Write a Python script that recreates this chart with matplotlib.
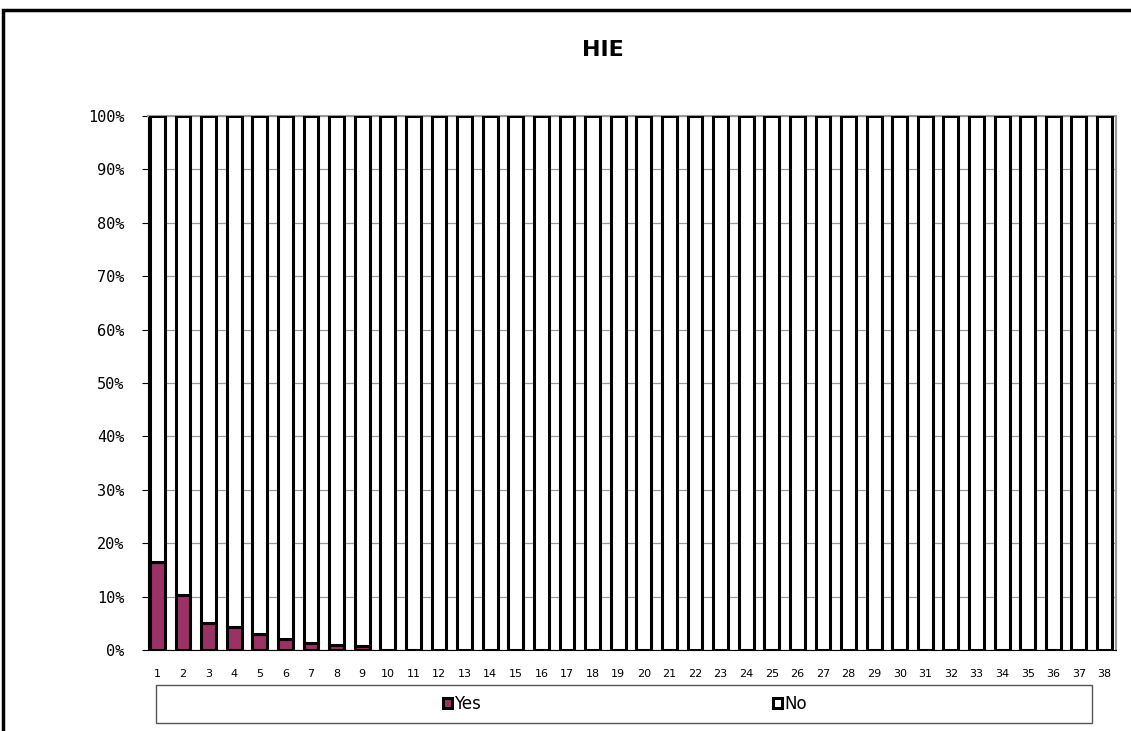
import matplotlib.pyplot as plt
from matplotlib.patches import Rectangle
import numpy as np

# Data
categories = [str(i) for i in range(1, 39)]
yes_pct = [16.5, 10.3, 5.1, 4.3, 3.0, 2.1, 1.3, 0.9, 0.8] + [0.0] * 29
no_pct = [100 - v for v in yes_pct]
y_ticks = list(range(0, 101, 10))
y_tick_labels = [f'{v}%' for v in y_ticks]

W, H = 1131, 731
fig = plt.figure(figsize=(W / 100, H / 100), dpi=100)

# Outer chart border (right and bottom edges fall outside the image)
fig.patches.append(Rectangle((3 / W, -0.2), 1.2, 1.2 - 10 / H, transform=fig.transFigure,
                             fill=False, edgecolor='black', linewidth=2.5))

ax = fig.add_axes([148 / W, 1 - 650 / H, (1116 - 148) / W, (650 - 116) / H])

x = np.arange(1, len(categories) + 1)
ax.bar(x, yes_pct, width=0.58, color='#993366', edgecolor='black', linewidth=2.2,
       label='Yes', zorder=3)
ax.bar(x, no_pct, width=0.58, bottom=yes_pct, color='white', edgecolor='black',
       linewidth=2.2, label='No', zorder=3)

ax.set_xlim(0.63, 38.45)
ax.set_ylim(0, 100)
ax.set_yticks(y_ticks)
ax.set_yticklabels(y_tick_labels, fontsize=11, family='DejaVu Sans Mono')
ax.set_xticks(x)
ax.set_xticklabels(categories, fontsize=8)
ax.tick_params(axis='x', length=3, pad=14, direction='in')
ax.tick_params(axis='y', length=4, pad=13, direction='out')
ax.grid(True, axis='y', color='#999999', linewidth=0.9, zorder=0)

for side in ['top', 'right']:
    ax.spines[side].set_color('#999999')
    ax.spines[side].set_linewidth(1.5)
ax.spines['left'].set_color('black')
ax.spines['bottom'].set_color('black')

fig.text(603 / W, 1 - 50 / H, 'HIE', ha='center', va='center', fontsize=16,
         fontweight='bold')

# Legend box
fig.patches.append(Rectangle((156 / W, 1 - 723 / H), (1092 - 156) / W, 38 / H,
                             transform=fig.transFigure, fill=False,
                             edgecolor='#555555', linewidth=1))
handles, labels = ax.get_legend_handles_labels()
for h, lab, xpos in zip(handles, labels, [462, 790]):
    fig.legend([h], [lab], loc='center', bbox_to_anchor=(xpos / W, 1 - 704 / H),
               frameon=False, fontsize=12, handlelength=0.55, handleheight=0.55,
               handletextpad=0.15, borderpad=0)

plt.savefig('out.png', dpi=100)
